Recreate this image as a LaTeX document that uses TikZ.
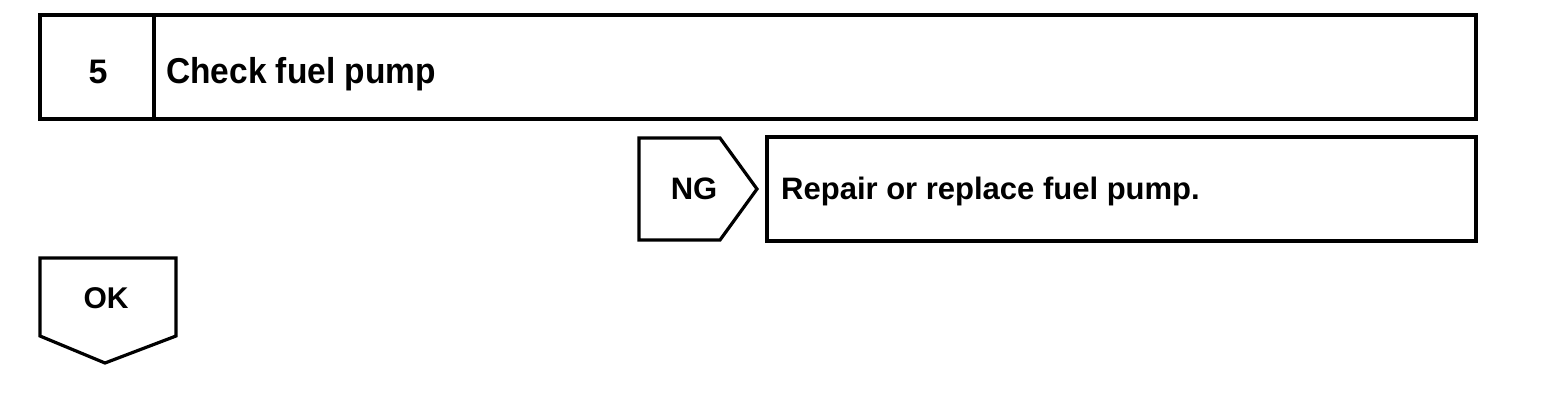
\documentclass[tikz,border=0pt]{standalone}
\usepackage{fontspec}
\setmainfont{Liberation Sans}
\begin{document}
\begin{tikzpicture}[x=1pt,y=-1pt,
  frame/.style={draw=black, line width=3.2pt, line join=miter},
  lbl/.style={inner sep=0pt, anchor=base, font=\bfseries\fontsize{31}{36}\selectfont},
  ttl/.style={inner sep=0pt, anchor=base west, font=\bfseries\fontsize{31}{36}\selectfont}]
\useasboundingbox (0,0) rectangle (1568,400);
% step header
\draw[frame] (40,15) rectangle (1476,119);
\draw[frame] (154,15) -- (154,119);
\node[lbl, font=\bfseries\fontsize{34}{38}\selectfont] (num) at (98,83) {5};
\node[ttl, font=\bfseries\fontsize{36}{40}\selectfont, xscale=0.93, transform shape] (title) at (166,83) {Check fuel pump};
% NG branch
\draw[frame] (639,138) -- (720,138) -- (757,189) -- (720,240) -- (639,240) -- cycle;
\node[lbl] (ng) at (694,199) {NG};
\draw[frame] (767,137) rectangle (1476,241);
\node[ttl] (fix) at (781,199) {Repair or replace fuel pump.};
% OK branch
\draw[frame] (40,258) -- (176,258) -- (176,336) -- (105,363) -- (40,336) -- cycle;
\node[lbl, font=\bfseries\fontsize{30}{34}\selectfont] (ok) at (106,308) {OK};
\end{tikzpicture}
\end{document}
